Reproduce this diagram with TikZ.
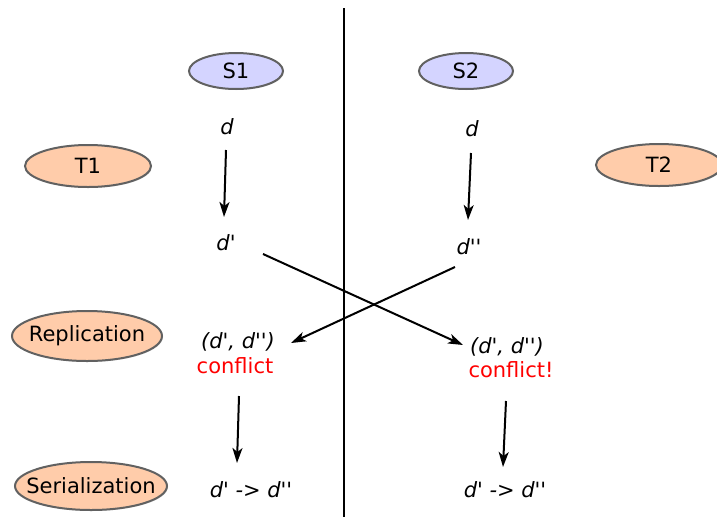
\documentclass[tikz,border=0pt]{standalone}
\usepackage{fontspec}
\setmainfont{DejaVu Sans}
\usetikzlibrary{arrows.meta,shadows,shapes.geometric}
\definecolor{lav}{RGB}{212,212,255}
\definecolor{peach}{RGB}{255,204,170}
\definecolor{confred}{RGB}{255,0,0}
\newcommand\pq{\textquotesingle}
\begin{document}
\begin{tikzpicture}[x=1pt,y=-1pt,
  every node/.style={font=\fontsize{21}{24}\selectfont},
  oval/.style={ellipse,draw=black!62,line width=2pt,inner ysep=0pt,inner xsep=-14pt,
    drop shadow={opacity=0.22,shadow xshift=1pt,shadow yshift=-1pt}},
  srv/.style={oval,fill=lav,minimum width=94pt,minimum height=36pt},
  phase/.style={oval,fill=peach},
  lbl/.style={inner sep=2pt},
  conf/.style={inner sep=2pt,text=confred},
  arr/.style={line width=2pt,-{Stealth[length=15pt,width=10pt,inset=4pt]}}
]
\useasboundingbox (0,0) rectangle (717,517);
\coordinate (top) at (344,8);
\coordinate (bot) at (344,517);
\draw[line width=2.2pt] (top) -- (bot);

\node[srv] (S1) at (236,71) {S1};
\node[srv] (S2) at (466,71) {S2};
\node[phase,minimum width=126pt,minimum height=42pt] (T1) at (88,166) {T1};
\node[phase,minimum width=126pt,minimum height=42pt] (T2) at (659,165) {T2};
\node[phase,minimum width=150pt,minimum height=50pt] (R) at (87,336) {Replication};
\node[phase,minimum width=152pt,minimum height=48pt] (Se) at (91,486) {Serialization};

\node[lbl] (d1) at (227,127) {\textit{d}};
\node[lbl] (d2) at (472,129) {\textit{d}};
\node[lbl] (d1p) at (226,243) {\textit{d\pq}};
\node[lbl] (d2p) at (469,247) {\textit{d\pq\pq}};
\node[lbl] (c1a) at (238,342) {\textit{(d\pq, d\pq\pq)}};
\node[conf] (c1b) at (235,366) {conflict};
\node[lbl] (c2a) at (507,347) {\textit{(d\pq, d\pq\pq)}};
\node[conf] (c2b) at (511,370) {conflict!};
\node[lbl] (s1) at (251,490) {\textit{d\pq\ -> d\pq\pq}};
\node[lbl] (s2) at (505,490) {\textit{d\pq\ -> d\pq\pq}};

\draw[arr] ([shift={(-1,23)}]d1.center) -- ([shift={(-2,-26)}]d1p.center);
\draw[arr] ([shift={(-1,24)}]d2.center) -- ([shift={(-1,-27)}]d2p.center);
\draw[arr] ([shift={(37,11)}]d1p.center) -- ([shift={(-44,-2)}]c2a.center);
\draw[arr] ([shift={(-14,20)}]d2p.center) -- ([shift={(53,1)}]c1a.center);
\draw[arr] ([shift={(4,30)}]c1b.center) -- ([shift={(-14,-27)}]s1.center);
\draw[arr] ([shift={(-5,31)}]c2b.center) -- ([shift={(-2,-23)}]s2.center);
\end{tikzpicture}
\end{document}
